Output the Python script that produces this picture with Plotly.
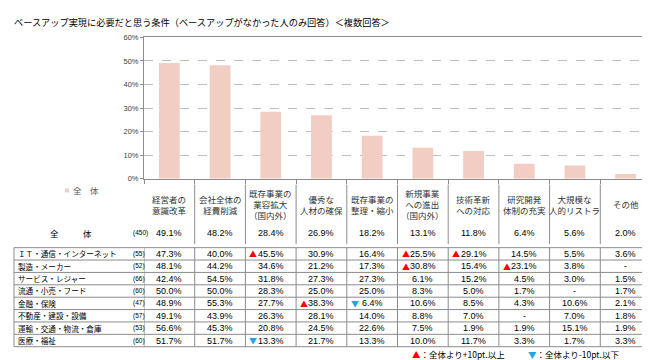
import plotly.graph_objects as go

W, H = 650, 360

categories = [
    "経営者の<br>意識改革",
    "会社全体の<br>経費削減",
    "既存事業の<br>業容拡大<br>（国内外）",
    "優秀な<br>人材の確保",
    "既存事業の<br>整理・縮小",
    "新規事業<br>への進出<br>（国内外）",
    "技術革新<br>への対応",
    "研究開発<br>体制の充実",
    "大規模な<br>人的リストラ",
    "その他",
]
overall = [49.1, 48.2, 28.4, 26.9, 18.2, 13.1, 11.8, 6.4, 5.6, 2.0]
overall_n = 450

row_labels = [
    "ＩＴ・通信・インターネット",
    "製造・メーカー",
    "サービス・レジャー",
    "流通・小売・フード",
    "金融・保険",
    "不動産・建設・設備",
    "運輸・交通・物流・倉庫",
    "医療・福祉",
]
row_n = [55, 52, 66, 60, 47, 57, 53, 60]
it_vals = [47.3, 40.0, 45.5, 30.9, 16.4, 25.5, 29.1, 14.5, 5.5, 3.6]
mfg_vals = [48.1, 44.2, 34.6, 21.2, 17.3, 30.8, 15.4, 23.1, 3.8, None]
svc_vals = [42.4, 54.5, 31.8, 27.3, 27.3, 6.1, 15.2, 4.5, 3.0, 1.5]
retail_vals = [50.0, 50.0, 28.3, 25.0, 25.0, 8.3, 5.0, 1.7, None, 1.7]
fin_vals = [48.9, 55.3, 27.7, 38.3, 6.4, 10.6, 8.5, 4.3, 10.6, 2.1]
estate_vals = [49.1, 43.9, 26.3, 28.1, 14.0, 8.8, 7.0, None, 7.0, 1.8]
trans_vals = [56.6, 45.3, 20.8, 24.5, 22.6, 7.5, 1.9, 1.9, 15.1, 1.9]
med_vals = [51.7, 51.7, 13.3, 21.7, 13.3, 10.0, 11.7, 3.3, 1.7, 3.3]
rows = [it_vals, mfg_vals, svc_vals, retail_vals, fin_vals, estate_vals, trans_vals, med_vals]

yticks = [0, 10, 20, 30, 40, 50, 60]
ytick_text = [f"{v}%" for v in yticks]

BAR = "#F2CDC4"
RED = "#FF0000"
CYAN = "#1FA6E0"
GRID = "#BFBFBF"
LINE = "#8C8C8C"
JP = "Noto Sans CJK JP"
LAT = "Liberation Sans"


def X(px):
    return px / W


def Y(py):
    return 1 - py / H


idx = list(range(len(categories)))

fig = go.Figure()
fig.add_trace(go.Bar(x=idx, y=overall, marker=dict(color=BAR, line=dict(width=0)),
                     width=0.41, hoverinfo="skip", showlegend=False))

ann = []
shapes = []

# title
ann.append(dict(text="ベースアップ実現に必要だと思う条件（ベースアップがなかった人のみ回答）＜複数回答＞",
                x=X(4), y=Y(10), xref="paper", yref="paper", xanchor="left", yanchor="middle",
                showarrow=False, font=dict(family=JP, size=9.2, color="#000000")))

# legend of the bar series
shapes.append(dict(type="rect", xref="paper", yref="paper", x0=X(57), x1=X(61), y0=Y(181), y1=Y(185),
                   fillcolor=BAR, line=dict(width=0)))
ann.append(dict(text="全　体", x=X(63), y=Y(183), xref="paper", yref="paper", xanchor="left",
                yanchor="middle", showarrow=False, font=dict(family=JP, size=8.5, color="#595959")))

# header labels
for i, c in enumerate(categories):
    ann.append(dict(text=c, x=i, y=Y(197), xref="x", yref="paper", xanchor="center", yanchor="middle",
                    showarrow=False, font=dict(family=JP, size=8.5, color="#333333")))
# header separators
for i in range(len(categories) - 1):
    shapes.append(dict(type="line", xref="x", yref="paper", x0=i + 0.5, x1=i + 0.5, y0=Y(177), y1=Y(238),
                       line=dict(color=LINE, width=1)))

# overall row
ann.append(dict(text="全", x=X(40), y=Y(227), xref="paper", yref="paper", showarrow=False,
                font=dict(family=JP, size=8.5, color="#000000")))
ann.append(dict(text="体", x=X(73), y=Y(227), xref="paper", yref="paper", showarrow=False,
                font=dict(family=JP, size=8.5, color="#000000")))
ann.append(dict(text=f"({overall_n})", x=X(123), y=Y(227), xref="paper", yref="paper", showarrow=False,
                font=dict(family=LAT, size=6.5, color="#000000")))
for i, v in enumerate(overall):
    ann.append(dict(text=f"{v:.1f}%", x=i, y=Y(227), xref="x", yref="paper", showarrow=False,
                    font=dict(family=LAT, size=9, color="#000000")))

# table body
top = 241.7
rh = 12.7
nrows = len(rows)
for k in range(nrows + 1):
    py = top + rh * k
    shapes.append(dict(type="line", xref="paper", yref="paper", x0=X(6), x1=X(643), y0=Y(py), y1=Y(py),
                       line=dict(color=LINE, width=1)))
bottom = top + rh * nrows
shapes.append(dict(type="line", xref="paper", yref="paper", x0=X(6), x1=X(6), y0=Y(top), y1=Y(bottom),
                   line=dict(color=LINE, width=1)))
for i in range(-1, len(categories)):
    shapes.append(dict(type="line", xref="x", yref="paper", x0=i + 0.5, x1=i + 0.5, y0=Y(top), y1=Y(bottom),
                       line=dict(color=LINE, width=1)))

for k, (lab, n, vals) in enumerate(zip(row_labels, row_n, rows)):
    cy = top + rh * (k + 0.5)
    ann.append(dict(text=lab, x=X(8), y=Y(cy), xref="paper", yref="paper", xanchor="left", yanchor="middle",
                    showarrow=False, font=dict(family=JP, size=7.6, color="#000000")))
    ann.append(dict(text=f"({n})", x=X(123), y=Y(cy), xref="paper", yref="paper", yanchor="middle",
                    showarrow=False, font=dict(family=LAT, size=6.5, color="#000000")))
    for i, v in enumerate(vals):
        txt = "-" if v is None else f"{v:.1f}%"
        ann.append(dict(text=txt, x=i, y=Y(cy), xref="x", yref="paper", yanchor="middle", showarrow=False,
                        font=dict(family=LAT, size=9, color="#000000")))
        if v is not None:
            diff = v - overall[i]
            mark = None
            if diff >= 10:
                mark, col = "▲", RED
            elif diff <= -10:
                mark, col = "▼", CYAN
            if mark:
                ann.append(dict(text=mark, x=i - 0.5, xshift=2, y=Y(cy), xref="x", yref="paper",
                                xanchor="left", yanchor="middle", showarrow=False,
                                font=dict(family=JP, size=8, color=col)))

# bottom legend
ann.append(dict(text=f'<span style="color:{RED}">▲</span>：全体より+10pt.以上', x=X(402), y=Y(351),
                xref="paper", yref="paper", xanchor="left", yanchor="middle", showarrow=False,
                font=dict(family=JP, size=8.5, color="#000000")))
ann.append(dict(text=f'<span style="color:{CYAN}">▼</span>：全体より-10pt.以下', x=X(518), y=Y(351),
                xref="paper", yref="paper", xanchor="left", yanchor="middle", showarrow=False,
                font=dict(family=JP, size=8.5, color="#000000")))

fig.update_layout(
    width=W, height=H, margin=dict(l=0, r=0, t=0, b=0),
    paper_bgcolor="white", plot_bgcolor="white",
    annotations=ann, shapes=shapes, bargap=0.59,
    xaxis=dict(domain=[X(136), X(643)], range=[-0.5, len(categories) - 0.5], type="linear",
               showticklabels=False, showgrid=False, zeroline=False,
               showline=True, linecolor=LINE, linewidth=1, mirror=True,
               tickmode="array", tickvals=[i + 0.5 for i in range(-1, len(categories))],
               ticks="outside", ticklen=4, tickcolor=LINE),
    yaxis=dict(domain=[Y(171), Y(26)], range=[0, 60], tickvals=yticks, ticktext=ytick_text,
               showgrid=True, gridcolor=GRID, griddash="dash", gridwidth=1, zeroline=False,
               showline=True, linecolor=LINE, linewidth=1, mirror=True,
               ticks="outside", ticklen=3, tickcolor=LINE,
               tickfont=dict(family=LAT, size=7.5, color="#404040")),
)

fig.write_html("out.html")
